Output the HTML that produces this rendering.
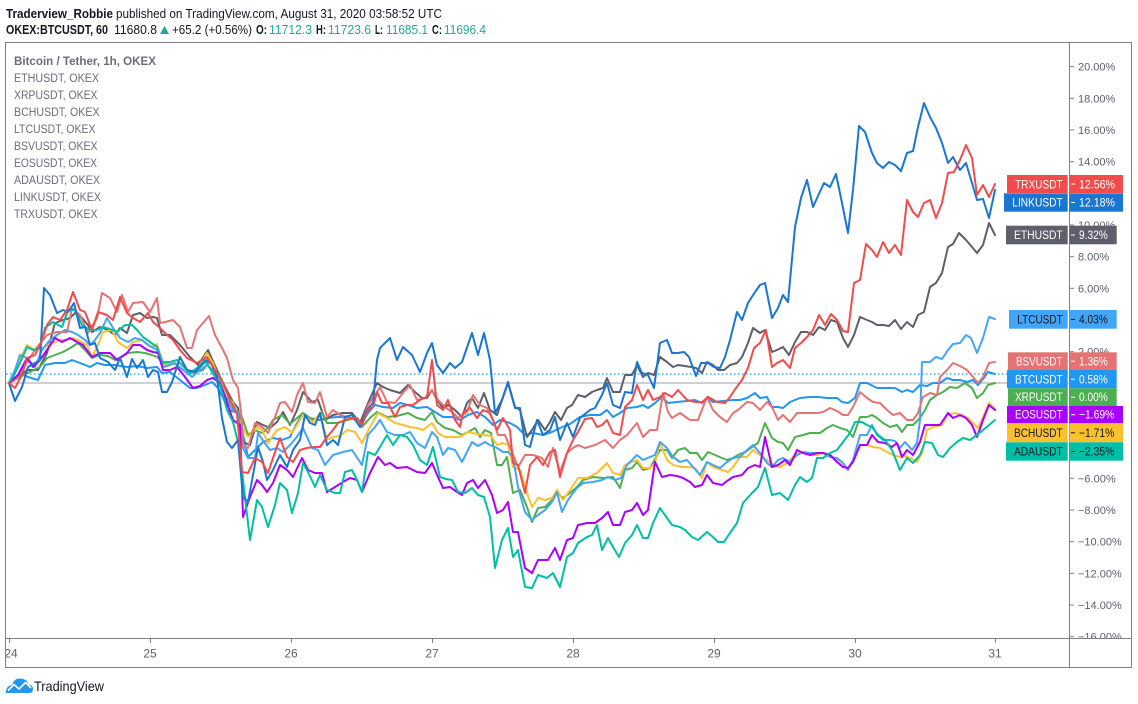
<!DOCTYPE html>
<html><head><meta charset="utf-8"><style>
html,body{margin:0;padding:0;background:#fff;}
svg{display:block;}
text{font-family:"Liberation Sans",sans-serif;}
</style></head><body>
<svg width="1138" height="704" viewBox="0 0 1138 704" xmlns="http://www.w3.org/2000/svg">
<rect width="1138" height="704" fill="#fff"/>

<!-- Header -->
<text x="6" y="18" font-size="13" font-weight="bold" fill="#131722" textLength="107" lengthAdjust="spacingAndGlyphs">Traderview_Robbie</text>
<text x="116" y="18" font-size="13" fill="#131722" textLength="326" lengthAdjust="spacingAndGlyphs">published on TradingView.com, August 31, 2020 03:58:52 UTC</text>
<text x="6" y="34" font-size="13" font-weight="bold" fill="#131722" textLength="102" lengthAdjust="spacingAndGlyphs">OKEX:BTCUSDT, 60</text>
<text x="114" y="34" font-size="13" fill="#131722" textLength="43" lengthAdjust="spacingAndGlyphs">11680.8</text>
<polygon points="160,34 169,34 164.5,26" fill="#26a69a"/>
<text x="172" y="34" font-size="13" fill="#131722" textLength="80" lengthAdjust="spacingAndGlyphs">+65.2 (+0.56%)</text>
<text x="256" y="34" font-size="13" font-weight="bold" fill="#131722" textLength="11" lengthAdjust="spacingAndGlyphs">O:</text>
<text x="269" y="34" font-size="13" fill="#26a69a" textLength="43" lengthAdjust="spacingAndGlyphs">11712.3</text>
<text x="316" y="34" font-size="13" font-weight="bold" fill="#131722" textLength="10" lengthAdjust="spacingAndGlyphs">H:</text>
<text x="328" y="34" font-size="13" fill="#26a69a" textLength="43" lengthAdjust="spacingAndGlyphs">11723.6</text>
<text x="375" y="34" font-size="13" font-weight="bold" fill="#131722" textLength="8" lengthAdjust="spacingAndGlyphs">L:</text>
<text x="386" y="34" font-size="13" fill="#26a69a" textLength="42" lengthAdjust="spacingAndGlyphs">11685.1</text>
<text x="432" y="34" font-size="13" font-weight="bold" fill="#131722" textLength="10" lengthAdjust="spacingAndGlyphs">C:</text>
<text x="444" y="34" font-size="13" fill="#26a69a" textLength="42" lengthAdjust="spacingAndGlyphs">11696.4</text>

<!-- Frame -->
<rect x="5.5" y="42.5" width="1126" height="625" fill="none" stroke="#7e8089" stroke-width="1"/>
<line x1="1069.5" y1="42.5" x2="1069.5" y2="667.5" stroke="#7e8089" stroke-width="1"/>
<line x1="5.5" y1="638.5" x2="1131.5" y2="638.5" stroke="#7e8089" stroke-width="1"/>

<!-- Legend -->
<g font-size="12" fill="#6a6d78">
<text x="14" y="65" font-weight="bold" textLength="142" lengthAdjust="spacingAndGlyphs">Bitcoin / Tether, 1h, OKEX</text>
<text x="14" y="82" textLength="85" lengthAdjust="spacingAndGlyphs">ETHUSDT, OKEX</text>
<text x="14" y="99" textLength="83.5" lengthAdjust="spacingAndGlyphs">XRPUSDT, OKEX</text>
<text x="14" y="116" textLength="85.5" lengthAdjust="spacingAndGlyphs">BCHUSDT, OKEX</text>
<text x="14" y="133" textLength="81.5" lengthAdjust="spacingAndGlyphs">LTCUSDT, OKEX</text>
<text x="14" y="150" textLength="83.5" lengthAdjust="spacingAndGlyphs">BSVUSDT, OKEX</text>
<text x="14" y="167" textLength="83" lengthAdjust="spacingAndGlyphs">EOSUSDT, OKEX</text>
<text x="14" y="184" textLength="86" lengthAdjust="spacingAndGlyphs">ADAUSDT, OKEX</text>
<text x="14" y="201" textLength="87" lengthAdjust="spacingAndGlyphs">LINKUSDT, OKEX</text>
<text x="14" y="218" textLength="83.5" lengthAdjust="spacingAndGlyphs">TRXUSDT, OKEX</text>
</g>

<defs>
<clipPath id="plot"><rect x="6" y="43" width="1063" height="595"/></clipPath>
<clipPath id="axis"><rect x="1070" y="43" width="61" height="595"/></clipPath>
<clipPath id="time"><rect x="6" y="639" width="1063" height="28"/></clipPath>
</defs>

<!-- Reference lines -->
<g clip-path="url(#plot)">
<line x1="6" y1="383" x2="1069" y2="383" stroke="#b2b5be" stroke-width="1.3"/>
<line x1="6" y1="374" x2="1069" y2="374" stroke="#2196f3" stroke-width="1.2" stroke-dasharray="1.5,2.5"/>

<g fill="none" stroke-width="2" stroke-linejoin="round" stroke-linecap="round">
<!-- BTC -->
<polyline stroke="#2196f3" points="9,383 20,373 28,377 38,380 45,365 55,363 65,363 72,360 80,363 90,367 97,363 105,365 115,365 127,367 137,366 147,368 157,367 162,373 170,372 180,380 190,388 197,388 205,385 212,382 218,388 225,402 230,410 237,413 242,430 248,457 255,450 263,442 273,438 282,440 290,437 296,425 303,413 310,418 320,420 327,418 337,417 347,417 357,420 362,423 368,413 375,405 383,407 393,408 400,403 408,405 417,408 427,407 435,412 443,417 452,417 460,420 468,415 477,412 485,417 493,425 500,420 510,423 517,427 525,435 533,433 543,435 552,432 560,428 570,424 580,417 590,415 600,415 607,410 613,417 620,413 627,408 637,407 643,405 648,408 655,403 662,397 668,403 677,402 687,401 695,400 702,403 707,398 713,402 723,401 733,400 740,400 747,398 755,393 760,398 767,397 772,407 778,407 783,408 790,402 800,398 810,397 818,397 827,398 837,398 842,402 848,403 855,398 860,383 867,383 877,388 887,388 895,388 902,392 907,390 913,392 920,385 927,386 933,383 940,383 947,378 953,380 960,380 967,382 973,380 978,385 983,379 988,372 995,374"/>
<!-- ETH -->
<polyline stroke="#5d606b" points="9,383 18,378 27,370 38,370 47,353 55,323 63,320 70,318 75,313 82,318 88,325 92,332 100,327 108,330 115,335 120,328 127,333 133,315 140,313 147,318 153,317 157,318 162,335 170,335 180,345 190,357 198,365 208,350 217,370 223,383 233,402 238,408 243,442 250,445 257,422 263,425 270,428 277,422 283,412 290,425 297,410 303,392 312,402 318,400 325,420 333,415 343,413 352,413 360,423 368,403 377,383 383,387 390,390 400,393 408,385 415,392 422,398 427,398 432,390 437,400 443,408 448,405 455,410 462,417 467,403 472,398 478,408 484,393 490,410 497,415 502,400 508,382 515,407 520,410 527,437 532,430 538,420 545,430 550,422 555,412 561,420 567,408 572,405 578,395 585,397 592,392 597,390 603,388 607,378 613,392 620,392 625,375 632,375 637,365 643,377 648,373 654,375 660,357 667,362 673,367 678,365 685,366 691,367 696,368 702,373 707,362 713,365 718,370 724,370 730,365 737,363 742,357 748,343 753,328 760,333 765,330 772,352 777,350 783,347 789,355 795,342 801,332 807,332 813,335 819,327 825,330 831,320 837,322 843,338 848,347 854,335 860,317 867,320 872,322 877,325 883,325 889,326 895,320 901,329 907,322 913,327 918,315 924,312 930,287 936,283 942,273 948,247 953,244 959,233 966,240 972,247 977,253 983,245 989,223 995,235"/>
<!-- XRP -->
<polyline stroke="#4caf50" points="9,383 18,378 30,372 40,367 47,358 55,355 63,352 72,347 78,343 85,350 92,358 100,355 108,356 115,360 121,357 128,353 137,352 145,353 152,355 157,357 163,362 170,362 177,365 183,370 193,373 203,370 210,360 217,373 222,380 230,405 236,412 242,417 248,435 255,430 262,433 268,428 273,420 282,415 290,424 303,413 312,420 318,418 322,412 327,423 337,423 347,420 357,418 362,427 370,418 377,412 387,417 397,416 408,413 417,418 425,420 432,412 437,422 445,428 453,430 462,435 468,432 475,428 480,437 485,430 491,433 497,465 502,465 507,457 513,493 520,490 527,507 532,522 538,508 545,507 552,500 557,493 563,498 570,493 577,487 583,480 593,477 603,478 613,477 620,488 625,470 632,468 637,462 643,470 650,468 660,450 667,450 672,458 678,450 685,448 690,453 697,453 702,460 708,452 715,455 722,458 727,460 733,458 738,455 745,452 752,447 758,443 765,423 772,438 778,442 783,443 788,450 795,437 803,435 810,433 820,433 827,428 833,425 840,428 847,430 853,437 860,417 867,417 872,415 877,418 883,423 890,427 897,425 902,432 907,425 913,425 920,418 925,410 930,400 937,395 943,392 950,387 957,388 965,383 972,388 977,398 983,393 988,385 995,383"/>
<!-- BCH -->
<polyline stroke="#fbc02d" points="9,383 18,363 27,345 35,350 42,348 50,344 60,340 67,340 73,338 80,341 87,345 92,357 98,345 103,332 112,330 118,342 127,348 133,342 142,340 152,347 157,344 163,365 172,363 181,368 190,373 197,370 207,353 213,363 218,377 225,393 233,403 242,427 248,437 257,427 262,430 268,443 277,430 285,427 292,433 300,420 303,415 313,422 320,413 327,440 333,437 340,436 347,430 355,432 362,443 370,427 378,413 387,418 395,423 403,425 410,427 417,428 423,430 432,423 438,433 445,437 452,437 460,437 468,432 477,434 485,435 491,436 497,445 503,443 508,445 513,467 520,470 527,493 532,507 538,498 545,500 552,498 557,490 563,500 570,490 578,478 587,478 597,473 607,463 613,473 620,475 625,465 632,462 637,460 643,468 650,468 655,463 660,443 667,460 673,465 682,467 689,467 695,468 702,478 707,462 713,467 722,470 728,472 733,467 740,457 747,457 753,450 760,455 767,460 773,465 780,467 787,463 793,457 800,452 805,453 810,455 817,455 823,453 830,455 837,460 843,467 848,468 853,460 860,445 867,445 873,447 880,448 887,452 893,455 900,457 905,456 910,458 917,462 922,453 927,430 933,427 942,425 948,415 955,413 962,415 968,418 973,423 978,428 983,417 989,403 995,409"/>
<!-- LTC -->
<polyline stroke="#42a5f5" points="9,383 15,370 20,355 27,358 35,367 42,350 50,340 57,335 65,330 72,332 78,335 85,340 90,345 95,340 100,333 107,318 113,328 120,338 128,342 135,338 142,340 148,345 157,350 163,367 170,365 175,363 183,370 192,377 200,370 207,365 213,370 220,383 227,400 233,410 238,412 243,448 248,458 255,458 258,433 264,442 270,450 277,448 283,452 290,445 296,438 303,428 312,448 318,450 325,465 333,455 343,452 352,450 362,465 368,435 375,427 380,420 387,432 395,435 403,435 410,432 417,443 425,448 432,432 437,437 443,455 448,448 455,450 462,462 467,452 472,442 478,446 485,442 490,445 497,448 503,452 508,452 513,457 518,487 525,512 532,520 538,515 545,510 552,502 557,492 562,512 568,500 573,493 577,488 583,483 593,482 602,480 608,477 615,480 621,478 627,465 637,455 643,460 650,457 655,455 660,442 667,448 673,457 680,462 687,460 693,467 700,475 707,462 713,465 720,468 727,462 733,458 740,457 747,450 753,445 760,453 767,463 772,467 778,460 783,458 790,462 797,455 803,452 810,453 817,453 823,453 830,457 837,458 843,463 848,470 853,460 860,435 867,435 872,425 877,435 883,440 890,440 895,441 900,448 905,442 912,450 917,443 920,420 922,362 930,362 936,357 942,359 948,350 953,344 960,343 966,335 971,338 977,353 983,338 989,317 995,319"/>
<!-- BSV -->
<polyline stroke="#e57373" points="9,383 15,380 22,370 27,362 35,350 47,335 57,332 67,332 72,308 80,315 88,333 97,318 102,293 110,298 117,312 122,295 128,312 133,303 143,302 150,312 157,298 160,323 165,322 173,320 180,327 187,348 192,348 197,330 209,316 215,335 222,348 227,358 233,380 238,388 242,420 243,447 248,448 255,423 262,427 268,433 275,417 280,403 285,402 292,412 297,395 303,383 308,402 315,403 320,392 327,417 333,410 340,415 347,417 355,420 362,423 368,405 375,395 380,387 387,402 395,403 403,393 410,385 417,400 425,398 432,390 438,400 445,407 452,412 458,418 467,412 473,395 480,405 487,408 493,420 498,435 505,435 512,452 518,467 525,455 533,455 542,458 548,467 553,448 560,472 567,453 573,448 578,445 585,448 595,445 605,440 613,448 620,440 627,435 637,423 643,437 650,430 657,430 663,393 668,412 672,418 680,413 690,420 698,420 707,397 713,410 720,417 727,422 733,413 738,410 747,402 753,403 760,410 767,402 772,407 778,420 783,415 790,422 797,413 803,413 810,413 817,413 823,412 830,408 837,411 843,415 848,415 853,407 860,392 867,398 873,402 880,403 887,410 893,415 900,413 907,420 913,420 918,413 923,397 930,393 937,395 940,377 947,370 953,363 960,366 967,370 973,377 978,383 983,377 989,363 995,362"/>
<!-- EOS -->
<polyline stroke="#aa00ff" points="9,383 18,375 27,358 33,367 40,360 47,350 55,338 62,342 70,338 77,342 83,345 92,357 100,353 110,353 117,360 127,353 133,345 140,345 147,350 153,352 158,353 163,370 170,370 177,367 185,377 193,388 200,386 207,380 213,378 220,383 227,403 233,420 240,425 243,517 250,497 257,480 262,485 267,492 273,483 280,465 287,470 293,477 302,458 308,470 315,473 322,473 327,492 335,487 343,482 350,478 357,480 362,492 370,473 378,457 385,465 390,463 397,468 407,467 417,472 425,473 432,463 438,477 443,488 450,487 457,492 462,495 467,483 473,480 478,488 485,480 492,495 497,513 503,510 508,502 513,532 518,532 525,568 532,573 538,560 548,560 555,548 560,560 567,540 573,538 578,525 587,523 595,523 602,518 608,512 613,525 620,525 625,512 632,510 637,503 643,515 648,510 655,462 662,477 670,475 677,476 683,478 690,482 695,487 702,485 707,475 713,483 722,485 727,481 733,477 742,475 748,468 755,465 760,467 765,437 772,467 778,465 785,460 790,465 797,450 803,453 810,455 817,453 823,453 830,455 837,462 843,467 848,468 853,462 860,445 867,445 872,435 878,442 885,443 892,447 897,443 902,457 907,450 913,455 920,442 925,425 932,425 940,425 948,413 953,418 960,415 966,418 972,425 977,437 983,420 989,405 995,410"/>
<!-- ADA -->
<polyline stroke="#00bfa5" points="9,383 14,375 20,363 27,347 33,350 40,348 45,328 53,322 62,327 68,310 75,310 82,325 90,330 97,330 103,327 110,329 117,332 125,325 132,325 137,330 143,337 150,342 157,347 163,363 170,362 177,360 183,366 190,373 197,368 205,360 212,372 220,385 227,410 233,422 240,450 243,480 250,540 257,500 262,507 268,527 275,505 280,483 287,490 292,513 298,493 303,463 308,472 315,487 320,475 327,490 335,493 340,493 345,472 352,470 357,480 362,492 368,452 375,455 380,447 387,435 393,445 400,435 407,437 413,445 420,460 427,465 433,447 440,477 446,479 452,480 458,492 465,493 472,488 478,495 484,497 490,517 495,568 502,540 508,528 513,557 518,550 525,587 532,588 538,575 547,578 553,573 560,587 567,557 573,553 578,543 587,537 592,535 597,525 602,550 608,538 613,547 619,557 625,543 632,535 637,525 643,538 648,538 653,523 660,508 667,518 672,525 680,527 685,530 692,537 698,540 707,532 713,537 718,542 724,542 730,533 737,523 743,503 752,493 758,487 765,468 772,495 780,493 788,500 795,485 800,477 807,482 812,478 817,458 823,458 830,453 837,450 843,442 850,433 855,422 862,422 867,425 872,427 878,435 885,440 892,450 900,470 907,458 913,463 920,455 925,442 932,443 938,455 943,457 950,448 957,442 963,438 970,440 977,435 983,430 989,425 995,420"/>
<!-- LINK -->
<polyline stroke="#1976d2" points="9,383 15,401 22,387 28,367 35,363 40,360 44,288 50,295 57,313 63,310 68,312 74,303 80,328 85,327 90,345 95,343 100,358 108,362 115,370 120,358 127,377 132,359 137,368 143,360 148,377 153,370 158,372 162,392 167,392 172,382 180,357 187,370 195,372 207,360 212,365 217,377 222,418 227,442 232,448 238,440 243,497 248,502 253,475 258,447 263,462 267,480 273,470 280,455 287,467 293,450 300,440 305,415 310,423 315,425 320,413 327,445 333,440 338,445 345,417 352,415 360,427 367,410 373,403 377,360 380,348 385,343 390,338 397,360 403,347 412,355 420,372 427,353 432,343 437,365 443,373 450,363 455,368 462,362 472,333 478,355 484,333 490,360 495,413 502,400 508,383 515,408 520,408 525,445 530,447 537,420 543,435 550,430 555,417 560,440 567,423 573,437 580,418 590,410 595,408 602,395 607,383 613,405 620,408 625,392 632,393 637,362 642,373 648,375 654,388 660,343 667,340 672,353 678,353 684,352 689,357 696,376 701,363 708,363 714,367 720,368 725,357 730,340 737,312 742,320 748,303 755,292 760,285 765,283 772,318 778,308 783,295 788,302 795,227 801,198 807,180 813,207 818,196 824,183 830,187 836,174 842,203 848,233 853,190 859,126 865,132 872,153 877,163 883,168 889,162 895,165 901,171 907,153 913,151 918,127 924,103 930,117 936,128 942,143 948,163 953,157 960,170 966,163 972,183 977,200 983,199 989,218 995,190"/>
<!-- TRX -->
<polyline stroke="#f24b4b" points="9,383 15,388 22,375 27,358 35,355 42,340 47,325 53,317 60,320 67,310 73,292 80,310 85,312 92,330 98,312 107,315 113,320 120,297 127,313 133,318 140,322 148,313 153,322 160,328 167,335 173,340 180,350 187,358 197,363 207,357 215,370 223,383 230,400 237,413 242,472 248,473 255,458 262,462 268,473 274,455 280,438 287,457 293,462 300,450 307,448 313,447 320,447 327,437 333,430 338,423 345,420 352,418 357,418 362,425 368,410 373,407 377,392 382,403 388,403 395,417 400,407 407,405 413,405 420,400 427,397 432,360 437,405 443,410 448,400 455,420 460,427 463,413 470,408 477,418 483,410 490,413 497,430 503,418 510,430 513,463 518,465 525,493 530,465 537,457 543,465 550,452 555,450 560,477 567,453 573,440 578,432 585,419 592,418 597,427 602,425 607,420 613,433 620,435 625,407 632,400 637,385 643,400 648,390 653,400 660,397 665,393 672,397 678,390 687,400 695,402 702,402 708,397 717,402 725,403 730,397 736,388 742,380 748,368 754,348 760,343 766,330 772,367 777,363 783,360 790,368 795,348 801,343 807,337 813,330 819,315 825,325 831,314 837,320 843,331 848,332 854,283 860,280 866,244 872,250 877,257 883,242 889,253 895,245 901,255 907,200 913,212 918,217 924,203 930,200 936,218 942,203 948,173 954,172 960,160 966,145 972,158 977,195 983,185 989,197 995,184"/>
</g>
</g>

<!-- Price axis ticks & labels -->
<g clip-path="url(#axis)">
<g stroke="#7e8089" stroke-width="1">
<line x1="1070" y1="66.7" x2="1074" y2="66.7"/>
<line x1="1070" y1="98.3" x2="1074" y2="98.3"/>
<line x1="1070" y1="130" x2="1074" y2="130"/>
<line x1="1070" y1="161.7" x2="1074" y2="161.7"/>
<line x1="1070" y1="225" x2="1074" y2="225"/>
<line x1="1070" y1="256.7" x2="1074" y2="256.7"/>
<line x1="1070" y1="288.3" x2="1074" y2="288.3"/>
<line x1="1070" y1="351.7" x2="1074" y2="351.7"/>
<line x1="1070" y1="478.3" x2="1074" y2="478.3"/>
<line x1="1070" y1="510" x2="1074" y2="510"/>
<line x1="1070" y1="541.7" x2="1074" y2="541.7"/>
<line x1="1070" y1="573.3" x2="1074" y2="573.3"/>
<line x1="1070" y1="605" x2="1074" y2="605"/>
<line x1="1070" y1="636.7" x2="1074" y2="636.7"/>
</g>
<g font-size="11" fill="#5d606b">
<text x="1078" y="70.7">20.00%</text>
<text x="1078" y="102.3">18.00%</text>
<text x="1078" y="134">16.00%</text>
<text x="1078" y="165.7">14.00%</text>
<text x="1078" y="229">10.00%</text>
<text x="1078" y="260.7">8.00%</text>
<text x="1078" y="292.3">6.00%</text>
<text x="1078" y="355.7">2.00%</text>
<text x="1078" y="482.3">−6.00%</text>
<text x="1078" y="514">−8.00%</text>
<text x="1078" y="545.7">−10.00%</text>
<text x="1078" y="577.3">−12.00%</text>
<text x="1078" y="609">−14.00%</text>
<text x="1078" y="640.7">−16.00%</text>
</g>
</g>

<!-- Series labels -->
<g font-size="12">
<!-- TRX -->
<rect x="1007" y="175" width="60.7" height="18" fill="#f24b4b"/>
<rect x="1069.5" y="175" width="53.5" height="18" fill="#f24b4b"/>
<text x="1015" y="188.3" fill="#fff" textLength="47.7" lengthAdjust="spacingAndGlyphs">TRXUSDT</text>
<line x1="1071" y1="184" x2="1075" y2="184" stroke="#fff"/>
<text x="1079" y="188.3" fill="#fff" textLength="36" lengthAdjust="spacingAndGlyphs">12.56%</text>
<!-- LINK -->
<rect x="1004" y="193.3" width="63.7" height="18.4" fill="#1976d2"/>
<rect x="1069.5" y="193.3" width="53.5" height="18.4" fill="#1976d2"/>
<text x="1012.3" y="206.7" fill="#fff" textLength="50.4" lengthAdjust="spacingAndGlyphs">LINKUSDT</text>
<line x1="1071" y1="202.5" x2="1075" y2="202.5" stroke="#fff"/>
<text x="1079" y="206.7" fill="#fff" textLength="36" lengthAdjust="spacingAndGlyphs">12.18%</text>
<!-- ETH -->
<rect x="1006" y="225.7" width="61.7" height="18.6" fill="#5d606b"/>
<rect x="1069.5" y="225.7" width="47.2" height="18.6" fill="#5d606b"/>
<text x="1014" y="239.2" fill="#fff" textLength="48.7" lengthAdjust="spacingAndGlyphs">ETHUSDT</text>
<line x1="1071" y1="235" x2="1075" y2="235" stroke="#fff"/>
<text x="1079" y="239.2" fill="#fff" textLength="28.7" lengthAdjust="spacingAndGlyphs">9.32%</text>
<!-- LTC -->
<rect x="1009" y="310" width="58.7" height="18.7" fill="#42a5f5"/>
<rect x="1069.5" y="310" width="47.2" height="18.7" fill="#42a5f5"/>
<text x="1017.3" y="323.5" fill="#131722" textLength="45.4" lengthAdjust="spacingAndGlyphs">LTCUSDT</text>
<line x1="1071" y1="319.4" x2="1075" y2="319.4" stroke="#131722"/>
<text x="1079" y="323.5" fill="#131722" textLength="28.7" lengthAdjust="spacingAndGlyphs">4.03%</text>
<!-- BSV -->
<rect x="1008" y="352.3" width="59.7" height="17.7" fill="#e57373"/>
<rect x="1069.5" y="352.3" width="47.2" height="17.7" fill="#e57373"/>
<text x="1016" y="365.3" fill="#fff" textLength="46.5" lengthAdjust="spacingAndGlyphs">BSVUSDT</text>
<line x1="1071" y1="361.2" x2="1075" y2="361.2" stroke="#fff"/>
<text x="1079" y="365.3" fill="#fff" textLength="28.7" lengthAdjust="spacingAndGlyphs">1.36%</text>
<!-- BTC -->
<rect x="1007" y="370" width="60.7" height="18.3" fill="#2196f3"/>
<rect x="1069.5" y="370" width="47.2" height="18.3" fill="#2196f3"/>
<text x="1015" y="383.3" fill="#fff" textLength="47.7" lengthAdjust="spacingAndGlyphs">BTCUSDT</text>
<line x1="1071" y1="379.2" x2="1075" y2="379.2" stroke="#fff"/>
<text x="1079" y="383.3" fill="#fff" textLength="28.7" lengthAdjust="spacingAndGlyphs">0.58%</text>
<!-- XRP -->
<rect x="1008" y="388.3" width="59.7" height="17.7" fill="#4caf50"/>
<rect x="1069.5" y="388.3" width="47.2" height="17.7" fill="#4caf50"/>
<text x="1015" y="401.2" fill="#fff" textLength="47.7" lengthAdjust="spacingAndGlyphs">XRPUSDT</text>
<line x1="1071" y1="397.2" x2="1075" y2="397.2" stroke="#fff"/>
<text x="1079" y="401.2" fill="#fff" textLength="28.7" lengthAdjust="spacingAndGlyphs">0.00%</text>
<!-- EOS -->
<rect x="1007" y="406" width="60.7" height="17.3" fill="#aa00ff"/>
<rect x="1069.5" y="406" width="53.5" height="17.3" fill="#aa00ff"/>
<text x="1015" y="418.7" fill="#fff" textLength="47.7" lengthAdjust="spacingAndGlyphs">EOSUSDT</text>
<line x1="1071" y1="414.7" x2="1075" y2="414.7" stroke="#fff"/>
<text x="1079" y="418.7" fill="#fff" textLength="35.3" lengthAdjust="spacingAndGlyphs">−1.69%</text>
<!-- BCH -->
<rect x="1007" y="423.3" width="60.7" height="19" fill="#fbc02d"/>
<rect x="1069.5" y="423.3" width="53.5" height="19" fill="#fbc02d"/>
<text x="1014" y="437" fill="#131722" textLength="48.7" lengthAdjust="spacingAndGlyphs">BCHUSDT</text>
<line x1="1071" y1="432.8" x2="1075" y2="432.8" stroke="#131722"/>
<text x="1079" y="437" fill="#131722" textLength="35.3" lengthAdjust="spacingAndGlyphs">−1.71%</text>
<!-- ADA -->
<rect x="1006" y="442.3" width="61.7" height="18.4" fill="#00bfa5"/>
<rect x="1069.5" y="442.3" width="53.5" height="18.4" fill="#00bfa5"/>
<text x="1014" y="455.7" fill="#131722" textLength="48.7" lengthAdjust="spacingAndGlyphs">ADAUSDT</text>
<line x1="1071" y1="451.5" x2="1075" y2="451.5" stroke="#131722"/>
<text x="1079" y="455.7" fill="#131722" textLength="35.3" lengthAdjust="spacingAndGlyphs">−2.35%</text>
</g>

<!-- Time axis -->
<g stroke="#7e8089" stroke-width="1">
<line x1="9.5" y1="638.5" x2="9.5" y2="643"/>
<line x1="150.5" y1="638.5" x2="150.5" y2="643"/>
<line x1="291.5" y1="638.5" x2="291.5" y2="643"/>
<line x1="432.5" y1="638.5" x2="432.5" y2="643"/>
<line x1="573.5" y1="638.5" x2="573.5" y2="643"/>
<line x1="714.5" y1="638.5" x2="714.5" y2="643"/>
<line x1="855.5" y1="638.5" x2="855.5" y2="643"/>
<line x1="995.5" y1="638.5" x2="995.5" y2="643"/>
</g>
<g font-size="12" fill="#5d606b" text-anchor="middle" clip-path="url(#time)">
<text x="11" y="657.5">24</text>
<text x="150" y="657.5">25</text>
<text x="291" y="657.5">26</text>
<text x="432" y="657.5">27</text>
<text x="573" y="657.5">28</text>
<text x="714" y="657.5">29</text>
<text x="855" y="657.5">30</text>
<text x="995" y="657.5">31</text>
</g>

<!-- Footer logo -->
<path d="M6,693 Q5.5,686 12,685 Q14,678 21,678.5 Q27,679 28.5,684.5 Q33,685 33,689 Q33,693 29,693 Z" fill="#2196f3"/>
<polyline points="8,690.5 14,684.5 19,689 25.5,682.5 31,688" fill="none" stroke="#fff" stroke-width="1.6" stroke-linejoin="round"/>
<text x="34" y="691" font-size="14" fill="#131722" textLength="70" lengthAdjust="spacingAndGlyphs">TradingView</text>
</svg>
</body></html>
